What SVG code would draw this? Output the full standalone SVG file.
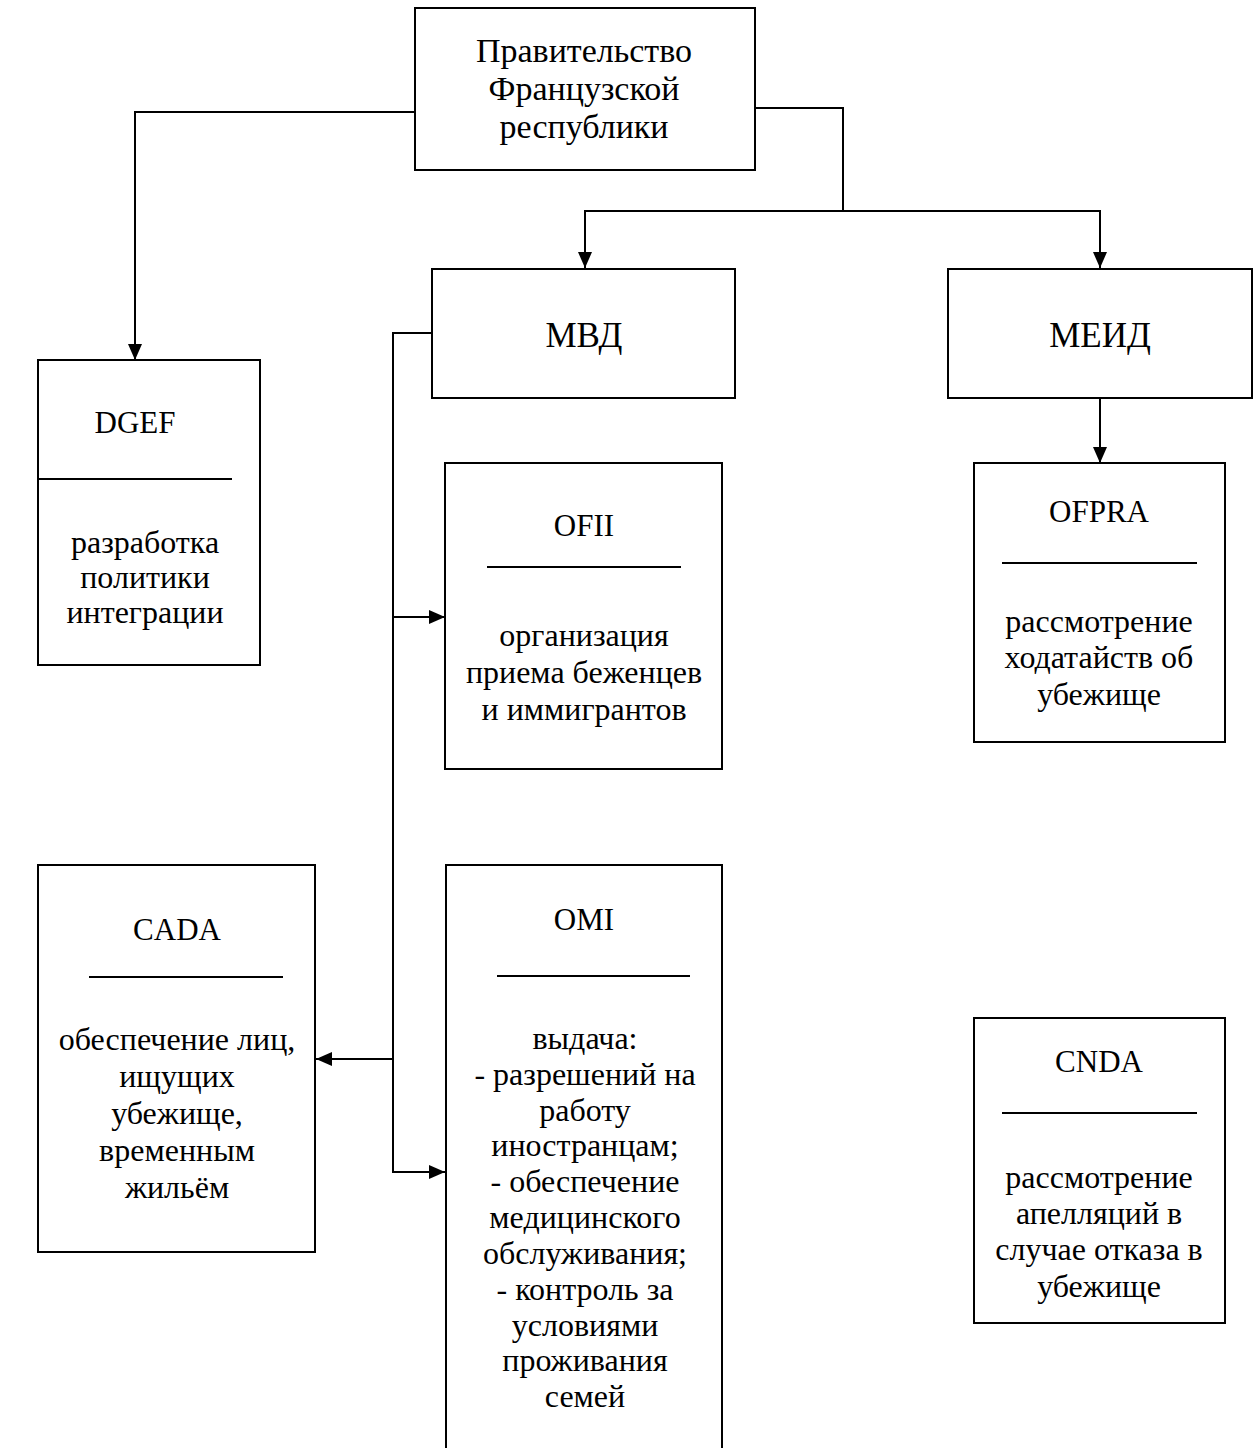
<svg xmlns="http://www.w3.org/2000/svg" width="1256" height="1448" viewBox="0 0 1256 1448">
<style>
.box{fill:#fff;stroke:#000;stroke-width:2}
.div{stroke:#000;stroke-width:2}
.con{fill:none;stroke:#000;stroke-width:2}
text{font-family:"Liberation Serif","Times New Roman",serif;fill:#000;text-anchor:middle}
.t{font-size:31px}
.b{font-size:32px}
.h{font-size:34px}
.m{font-size:35px}
</style>
<defs>
<marker id="arr" markerUnits="userSpaceOnUse" markerWidth="16" markerHeight="14" refX="16" refY="7" orient="auto">
<path d="M0,0 L16,7 L0,14 Z" fill="#000"/>
</marker>
</defs>
<rect width="1256" height="1448" fill="#fff"/>

<g id="connectors">
<path class="con" d="M415,112 H135 V360" marker-end="url(#arr)"/>
<path class="con" d="M755,108 H843 V211"/>
<path class="con" d="M843,211 H585 V268" marker-end="url(#arr)"/>
<path class="con" d="M843,211 H1100 V268" marker-end="url(#arr)"/>
<path class="con" d="M1100,398 V463" marker-end="url(#arr)"/>
<path class="con" d="M432,333 H393 V1172 H445" marker-end="url(#arr)"/>
<path class="con" d="M393,617 H445" marker-end="url(#arr)"/>
<path class="con" d="M393,1059 H316" marker-end="url(#arr)"/>
</g>

<g id="gov">
<rect class="box" x="415" y="8" width="340" height="162"/>
<text class="h" x="584" y="62">Правительство</text>
<text class="h" x="584" y="100">Французской</text>
<text class="h" x="584" y="138">республики</text>
</g>

<g id="mvd">
<rect class="box" x="432" y="269" width="303" height="129"/>
<text class="m" x="584" y="347">МВД</text>
</g>

<g id="meid">
<rect class="box" x="948" y="269" width="304" height="129"/>
<text class="m" x="1100" y="347">МЕИД</text>
</g>

<g id="dgef">
<rect class="box" x="38" y="360" width="222" height="305"/>
<text class="t" x="135" y="433">DGEF</text>
<line class="div" x1="39" y1="479" x2="232" y2="479"/>
<text class="b" x="145" y="553">разработка</text>
<text class="b" x="145" y="588">политики</text>
<text class="b" x="145" y="623">интеграции</text>
</g>

<g id="ofii">
<rect class="box" x="445" y="463" width="277" height="306"/>
<text class="t" x="584" y="536">OFII</text>
<line class="div" x1="487" y1="567" x2="681" y2="567"/>
<text class="b" x="584" y="646">организация</text>
<text class="b" x="584" y="683">приема беженцев</text>
<text class="b" x="584" y="720">и иммигрантов</text>
</g>

<g id="ofpra">
<rect class="box" x="974" y="463" width="251" height="279"/>
<text class="t" x="1099" y="522">OFPRA</text>
<line class="div" x1="1002" y1="563" x2="1197" y2="563"/>
<text class="b" x="1099" y="632">рассмотрение</text>
<text class="b" x="1099" y="668">ходатайств об</text>
<text class="b" x="1099" y="705">убежище</text>
</g>

<g id="cada">
<rect class="box" x="38" y="865" width="277" height="387"/>
<text class="t" x="177" y="940">CADA</text>
<line class="div" x1="89" y1="977" x2="283" y2="977"/>
<text class="b" x="177" y="1050">обеспечение лиц,</text>
<text class="b" x="177" y="1087">ищущих</text>
<text class="b" x="177" y="1124">убежище,</text>
<text class="b" x="177" y="1161">временным</text>
<text class="b" x="177" y="1198">жильём</text>
</g>

<g id="omi">
<rect class="box" x="446" y="865" width="276" height="600"/>
<text class="t" x="584" y="930">OMI</text>
<line class="div" x1="497" y1="976" x2="690" y2="976"/>
<text class="b" x="585" y="1049">выдача:</text>
<text class="b" x="585" y="1085">- разрешений на</text>
<text class="b" x="585" y="1121">работу</text>
<text class="b" x="585" y="1156">иностранцам;</text>
<text class="b" x="585" y="1192">- обеспечение</text>
<text class="b" x="585" y="1228">медицинского</text>
<text class="b" x="585" y="1264">обслуживания;</text>
<text class="b" x="585" y="1300">- контроль за</text>
<text class="b" x="585" y="1336">условиями</text>
<text class="b" x="585" y="1371">проживания</text>
<text class="b" x="585" y="1407">семей</text>
</g>

<g id="cnda">
<rect class="box" x="974" y="1018" width="251" height="305"/>
<text class="t" x="1099" y="1072">CNDA</text>
<line class="div" x1="1002" y1="1113" x2="1197" y2="1113"/>
<text class="b" x="1099" y="1188">рассмотрение</text>
<text class="b" x="1099" y="1224">апелляций в</text>
<text class="b" x="1099" y="1260">случае отказа в</text>
<text class="b" x="1099" y="1297">убежище</text>
</g>
</svg>
